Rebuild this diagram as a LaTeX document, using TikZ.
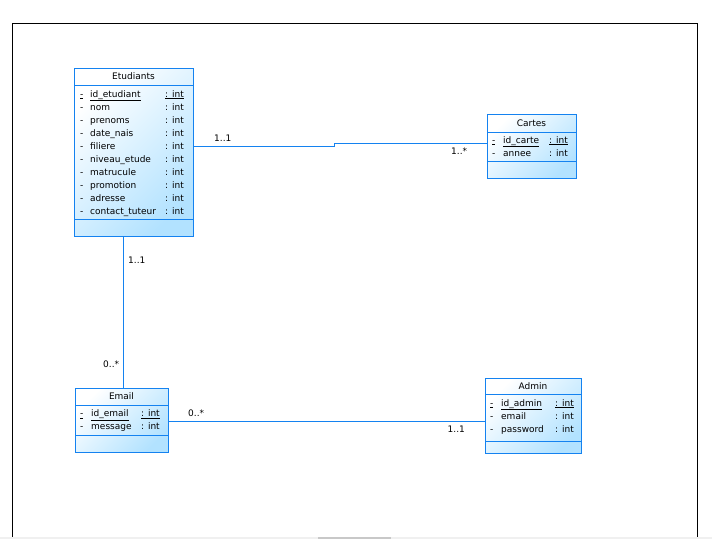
\documentclass[tikz,border=0pt]{standalone}
\usepackage{fontspec}
\setmainfont{DejaVu Sans}
\definecolor{cborder}{RGB}{20,130,240}
\definecolor{cfill}{RGB}{178,226,255}
\definecolor{scrollbg}{RGB}{240,240,240}
\definecolor{scrollth}{RGB}{200,200,200}
\begin{document}
\begin{tikzpicture}[x=1pt,y=-1pt,
 classbox/.style={draw=cborder, line width=1pt, top color=white, bottom color=cfill, shading angle=45, inner sep=0pt, anchor=north west},
 sepline/.style={draw=cborder, line width=1pt},
 conn/.style={draw=cborder, line width=1pt},
 txt/.style={inner sep=0pt, anchor=base west, font=\fontsize{9}{10}\selectfont, text=black},
 ttl/.style={txt, anchor=base},
 mult/.style={txt}]
\useasboundingbox (0,0) rectangle (712,539);
\fill[white] (0,0) rectangle (712,539);
\draw[line width=1pt] (12.5,537) -- (12.5,23.5) -- (697.5,23.5) -- (697.5,537);
\fill[scrollbg] (0,536.5) rectangle (712,539);
\fill[scrollth] (318,536.5) rectangle (391,539);

% Etudiants
\node[classbox, minimum width=119pt, minimum height=168pt] (etud) at (74,68) {};
\draw[sepline] (etud.west |- 0,85) -- (etud.east |- 0,85);
\draw[sepline] (etud.west |- 0,219) -- (etud.east |- 0,219);
\node[ttl] (etudT) at (133.5,79) {Etudiants};
\node[txt] (etud-d0) at (80,97) {\underline{-}};
\node[txt] (etud-n0) at (90,97) {\underline{id\_etudiant}};
\node[txt] (etud-t0) at (165,97) {\underline{: int}};
\foreach \a [count=\i from 1] in {nom,prenoms,date\_nais,filiere,niveau\_etude,matrucule,promotion,adresse,contact\_tuteur}{
  \node[txt] (etud-d\i) at (80,97+13*\i) {-};
  \node[txt] (etud-n\i) at (90,97+13*\i) {\a};
  \node[txt] (etud-t\i) at (165,97+13*\i) {: int};
}

% Cartes
\node[classbox, minimum width=89pt, minimum height=64pt] (cart) at (487,114) {};
\draw[sepline] (cart.west |- 0,132) -- (cart.east |- 0,132);
\draw[sepline] (cart.west |- 0,161) -- (cart.east |- 0,161);
\node[ttl] (cartT) at (531.5,126) {Cartes};
\node[txt] (cart-d0) at (492,143) {\underline{-}};
\node[txt] (cart-n0) at (503,143) {\underline{id\_carte}};
\node[txt] (cart-t0) at (549,143) {\underline{: int}};
\node[txt] (cart-d1) at (492,156) {-};
\node[txt] (cart-n1) at (503,156) {annee};
\node[txt] (cart-t1) at (549,156) {: int};

% Email
\node[classbox, minimum width=93pt, minimum height=64pt] (email) at (75,388) {};
\draw[sepline] (email.west |- 0,405) -- (email.east |- 0,405);
\draw[sepline] (email.west |- 0,435) -- (email.east |- 0,435);
\node[ttl] (emailT) at (121.5,399.5) {Email};
\node[txt] (email-d0) at (80,416.5) {\underline{-}};
\node[txt] (email-n0) at (91,416.5) {\underline{id\_email}};
\node[txt] (email-t0) at (141,416.5) {\underline{: int}};
\node[txt] (email-d1) at (80,429.5) {-};
\node[txt] (email-n1) at (91,429.5) {message};
\node[txt] (email-t1) at (141,429.5) {: int};

% Admin
\node[classbox, minimum width=96pt, minimum height=75pt] (admin) at (485,378) {};
\draw[sepline] (admin.west |- 0,394) -- (admin.east |- 0,394);
\draw[sepline] (admin.west |- 0,441) -- (admin.east |- 0,441);
\node[ttl] (adminT) at (533,389) {Admin};
\node[txt] (admin-d0) at (490,406) {\underline{-}};
\node[txt] (admin-n0) at (501,406) {\underline{id\_admin}};
\node[txt] (admin-t0) at (555,406) {\underline{: int}};
\node[txt] (admin-d1) at (490,419) {-};
\node[txt] (admin-n1) at (501,419) {email};
\node[txt] (admin-t1) at (555,419) {: int};
\node[txt] (admin-d2) at (490,432) {-};
\node[txt] (admin-n2) at (501,432) {password};
\node[txt] (admin-t2) at (555,432) {: int};

% connectors
\draw[conn] (etud.east |- 0,146.5) -- (334,146.5) -- (334,143.5) -- (cart.west |- 0,143.5);
\draw[conn] (etud.south -| 123.5,0) -- (email.north -| 123.5,0);
\draw[conn] (email.east |- 0,421.5) -- (admin.west |- 0,421.5);

% multiplicities
\node[mult] (m1) at (214,141) {1..1};
\node[mult] (m2) at (451,154) {1..*};
\node[mult] (m3) at (128,263) {1..1};
\node[mult] (m4) at (103,367) {0..*};
\node[mult] (m5) at (188,416) {0..*};
\node[mult] (m6) at (447.5,432) {1..1};
\end{tikzpicture}
\end{document}
